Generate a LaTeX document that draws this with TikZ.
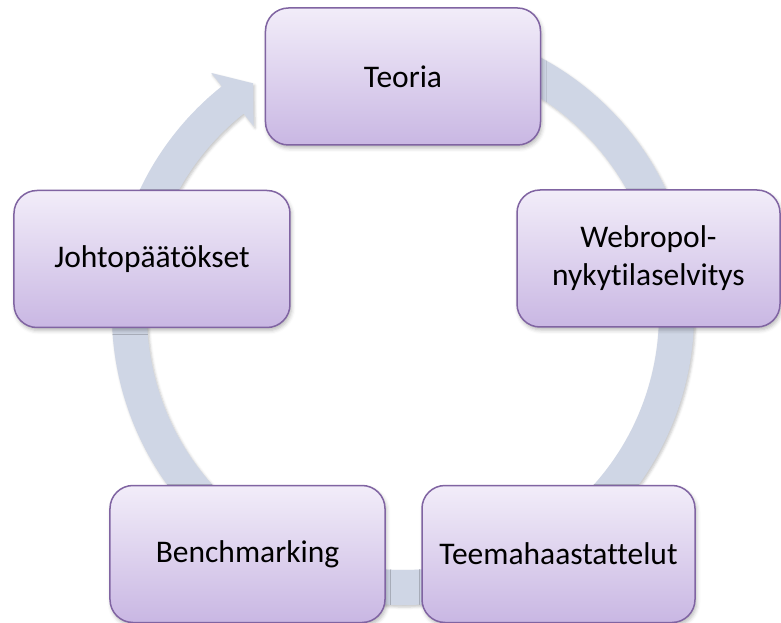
\documentclass[tikz,border=0pt]{standalone}
\usepackage{fontspec}
\setmainfont[Ligatures={NoCommon,NoRare,NoContextual}]{Carlito}
\usetikzlibrary{shadows.blur}

\definecolor{ringfill}{RGB}{207,214,229}
\definecolor{boxedge}{RGB}{128,100,162}
\definecolor{boxtop}{RGB}{242,237,249}
\definecolor{boxbottom}{RGB}{201,183,227}

\tikzset{
  stage/.style={
    draw=boxedge, line width=1.5pt, rounded corners=23pt,
    top color=boxtop, bottom color=boxbottom,
    minimum height=137pt, minimum width=275pt, inner sep=0pt,
    align=center, text=black, font=\fontsize{31.5}{38}\selectfont,
    blur shadow={shadow xshift=1.5pt, shadow yshift=-3pt,
                 shadow opacity=28, shadow blur radius=4pt}
  },
  cyclering/.style={
    fill=ringfill,
    blur shadow={shadow xshift=1.5pt, shadow yshift=-2pt,
                 shadow opacity=22, shadow blur radius=2.5pt}
  }
}

\begin{document}
\begin{tikzpicture}[x=1pt,y=1pt]
\useasboundingbox (-403,-309) rectangle (378,314);

% circular arrow running clockwise behind the stages, head ending at the first stage
\path[cyclering]
  (68:291) arc[start angle=68, end angle=-231.5, radius=291]
  -- (128.5:308) -- (123:275) -- (128.5:240) -- (128.5:256)
  arc[start angle=-231.5, end angle=68, radius=256] -- cycle;

% the five stages
\node[stage] (teoria) at (0,237.5) {Teoria};
\node[stage, minimum width=263pt] (webropol) at (245.5,55.5) {Webropol-\\nykytilaselvitys};
\node[stage, minimum width=273pt] (teema) at (155.5,-240) {Teemahaastattelut};
\node[stage] (bench) at (-155.5,-240) {Benchmarking};
\node[stage, minimum width=276pt] (johto) at (-251,55) {Johtopäätökset};
\end{tikzpicture}
\end{document}
